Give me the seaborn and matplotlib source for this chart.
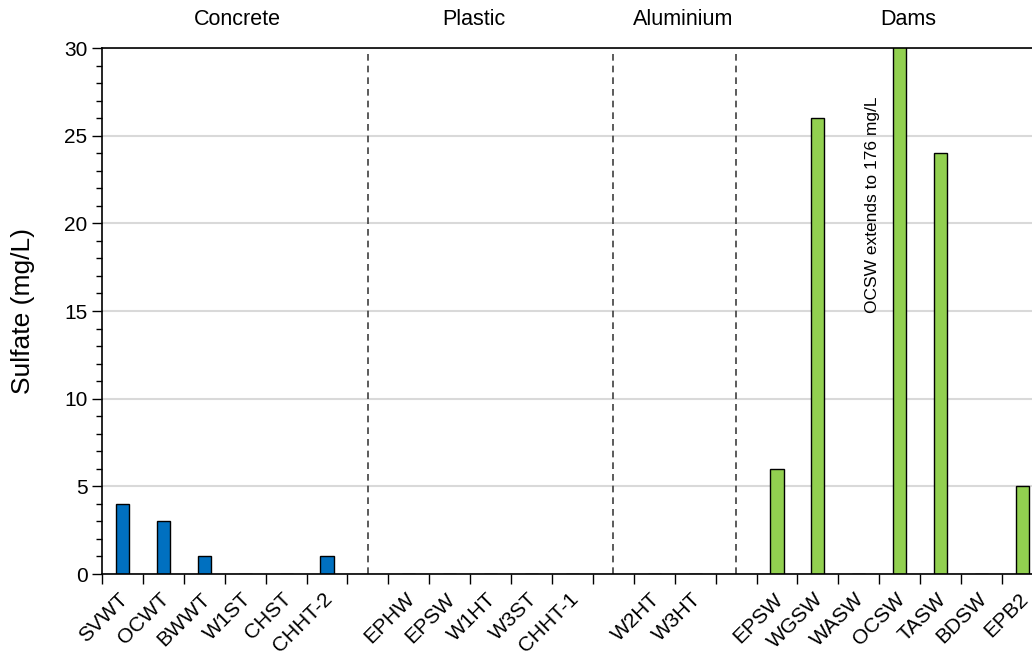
"""Sulfate concentration per sampling site, grouped by tank/source material."""

import numpy as np
import pandas as pd
import seaborn as sns
import matplotlib.pyplot as plt
import matplotlib.transforms as mtransforms

# site labels per group (empty strings are the spacer slots between groups)
concrete_sites = ["SVWT", "OCWT", "BWWT", "W1ST", "CHST", "CHHT-2"]
plastic_sites = ["EPHW", "EPSW", "W1HT", "W3ST", "CHHT-1"]
aluminium_sites = ["W2HT", "W3HT"]
dam_sites = ["EPSW", "WGSW", "WASW", "OCSW", "TASW", "BDSW", "EPB2"]

concrete_vals = [4, 3, 1, 0, 0, 1]
plastic_vals = [0, 0, 0, 0, 0]
aluminium_vals = [0, 0]
dam_vals = [6, 26, 0, 176, 24, 0, 5]

group_names = ["Concrete", "Plastic", "Aluminium", "Dams"]
group_label_x = [2.8, 8.6, 13.7, 19.2]   # where the header text sits (slot units)
ocsw_note = "OCSW extends to 176 mg/L"

palette = {"tank": "#0070C0", "dam": "#92D050"}


def build_frame():
    """Lay out sites in slots with one empty slot between groups."""
    rows, order, labels, gaps = [], [], [], []
    groups = [(concrete_sites, concrete_vals, "tank"),
              (plastic_sites, plastic_vals, "tank"),
              (aluminium_sites, aluminium_vals, "tank"),
              (dam_sites, dam_vals, "dam")]
    slot = 0
    for gidx, (sites, vals, kind) in enumerate(groups):
        if gidx > 0:
            order.append("gap%d" % gidx)
            labels.append("")
            gaps.append(slot)
            slot += 1
        for site, val in zip(sites, vals):
            key = "s%02d" % slot
            rows.append({"slot": key, "sulfate": val, "kind": kind})
            order.append(key)
            labels.append(site)
            slot += 1
    return pd.DataFrame(rows), order, labels, gaps


dfrm, order, labels, gaps = build_frame()

sns.set_style("ticks")
plt.rcParams["font.family"] = ["Liberation Sans", "DejaVu Sans"]
plt.rcParams["text.color"] = "black"
plt.rcParams["xtick.color"] = "black"
plt.rcParams["ytick.color"] = "black"
plt.rcParams["axes.labelcolor"] = "black"

fig = plt.figure(figsize=(10.32, 6.57), dpi=100)
ax = fig.add_axes([0.0988, 0.1263, 0.9118, 0.8006])

# grid first so bars sit above it
ax.set_axisbelow(True)
ax.yaxis.grid(True, color="#d9d9d9", linewidth=1.5)

sns.barplot(data=dfrm, x="slot", y="sulfate", hue="kind", order=order,
            palette=palette, saturation=1, width=0.32, edgecolor="black",
            linewidth=1.0, dodge=False, legend=False, ax=ax)

nslots = len(order)
ax.set_xlim(-0.5, nslots - 0.5)
ax.set_ylim(0, 30)

# dashed separators in the spacer slots
ax.vlines(gaps, 0, 29.8, colors="#404040", linestyles=(0, (4, 3)), linewidth=1.2)

# x: labels at slot centres, tick marks at slot boundaries
ax.set_xticks(np.arange(nslots))
ax.set_xticklabels(labels, rotation=45, ha="right", rotation_mode="anchor", fontsize=15)
ax.set_xticks(np.arange(nslots + 1) - 0.5, minor=True)
ax.tick_params(axis="x", which="major", length=0, pad=11)
ax.tick_params(axis="x", which="minor", length=7, width=1, direction="out")
# nudge the rotated labels a little to the left so the last one stays in frame
shift = mtransforms.ScaledTranslation(-4 / 100, 0, fig.dpi_scale_trans)
for lbl in ax.get_xticklabels():
    lbl.set_transform(lbl.get_transform() + shift)

# y: majors every 5, minors every 1
ax.set_yticks(np.arange(0, 31, 5))
ax.set_yticks(np.arange(0, 31, 1), minor=True)
ax.tick_params(axis="y", which="major", length=7, width=1, labelsize=15)
ax.tick_params(axis="y", which="minor", length=4, width=1)
ax.set_ylabel("Sulfate (mg/L)", fontsize=19)
ax.yaxis.set_label_coords(-0.071, 0.5)
ax.set_xlabel("")

for side in ["left", "bottom", "top"]:
    ax.spines[side].set_color("black")
    ax.spines[side].set_linewidth(1.2)
ax.spines["right"].set_visible(False)

# group headers above the plot
trans = ax.get_xaxis_transform()
for name, xpos in zip(group_names, group_label_x):
    ax.text(xpos, 1.055, name, transform=trans, ha="center", va="center", fontsize=15.5)

ax.text(18.33, 21.05, ocsw_note, rotation=90, ha="center", va="center", fontsize=12.5)

fig.savefig("out.png", dpi=100)
